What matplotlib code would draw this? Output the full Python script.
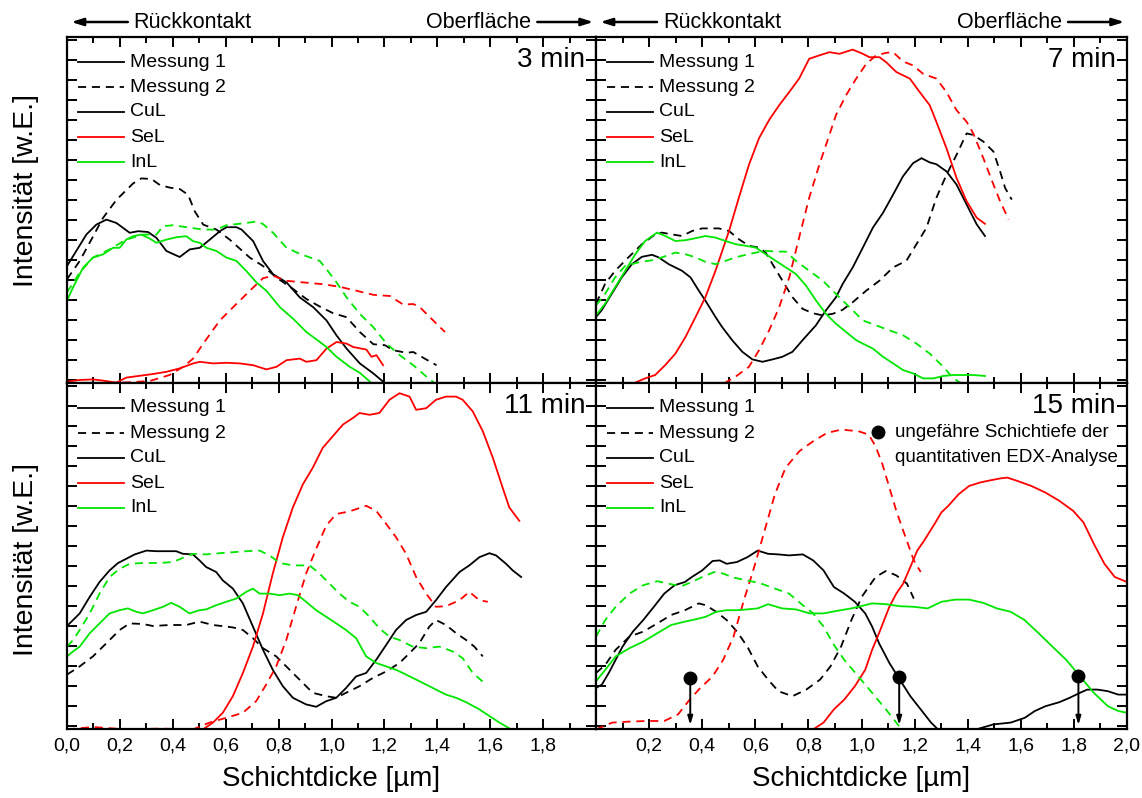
import matplotlib
matplotlib.use("Agg")
import matplotlib.pyplot as plt
import numpy as np
from matplotlib.lines import Line2D

plt.rcParams['font.family'] = ['Liberation Sans', 'DejaVu Sans']

RED = '#ff0000'
GREEN = '#00e600'

# ---------------- 3 min ----------------
m3_cu1_x = [0, 0.035, 0.073, 0.111, 0.149, 0.187, 0.237, 0.269, 0.306, 0.338, 0.376, 0.426, 0.464, 0.502, 0.540, 0.578, 0.603, 0.641, 0.660, 0.704, 0.741, 0.779, 0.830, 0.880, 0.931, 0.981, 1.019, 1.057, 1.107, 1.158, 1.195]
m3_cu1_y = [5.70, 6.45, 7.27, 7.77, 8.02, 7.85, 7.36, 7.44, 7.40, 7.11, 6.45, 6.15, 6.53, 6.61, 7.02, 7.44, 7.64, 7.64, 7.52, 6.94, 5.95, 5.29, 4.88, 4.13, 3.64, 2.98, 2.23, 1.57, 0.83, 0.33, -0.08]
m3_cu2_x = [0, 0.048, 0.092, 0.136, 0.187, 0.250, 0.281, 0.319, 0.351, 0.388, 0.426, 0.458, 0.483, 0.515, 0.565, 0.615, 0.691, 0.741, 0.792, 0.855, 0.905, 0.956, 1.006, 1.057, 1.107, 1.158, 1.202, 1.233, 1.284, 1.309, 1.359, 1.397]
m3_cu2_y = [5.04, 5.95, 7.02, 8.10, 9.01, 9.83, 10.08, 10.05, 9.75, 9.62, 9.55, 9.26, 8.43, 7.77, 7.52, 7.02, 6.12, 5.70, 5.12, 4.55, 4.05, 3.67, 3.34, 3.14, 2.40, 1.79, 1.74, 1.49, 1.36, 1.40, 1.02, 0.74]
m3_in1_x = [0, 0.023, 0.061, 0.098, 0.136, 0.174, 0.199, 0.224, 0.250, 0.281, 0.313, 0.338, 0.376, 0.414, 0.451, 0.477, 0.502, 0.527, 0.565, 0.603, 0.641, 0.678, 0.716, 0.754, 0.805, 0.855, 0.905, 0.956, 0.981, 1.019, 1.069, 1.107, 1.145]
m3_in1_y = [3.97, 4.63, 5.62, 6.12, 6.28, 6.61, 6.61, 7.02, 7.19, 7.27, 7.07, 6.86, 7.02, 7.14, 7.19, 6.94, 6.86, 6.61, 6.45, 6.12, 5.95, 5.45, 4.88, 4.46, 3.64, 3.06, 2.40, 1.90, 1.65, 1.16, 0.66, 0.36, -0.08]
m3_in2_x = [0, 0.048, 0.098, 0.161, 0.224, 0.288, 0.338, 0.363, 0.401, 0.451, 0.515, 0.565, 0.603, 0.678, 0.716, 0.741, 0.779, 0.830, 0.880, 0.956, 0.981, 1.019, 1.057, 1.107, 1.158, 1.208, 1.258, 1.309, 1.359, 1.391]
m3_in2_y = [4.38, 5.37, 6.12, 6.53, 7.02, 7.27, 7.27, 7.69, 7.74, 7.64, 7.52, 7.52, 7.74, 7.85, 7.93, 7.80, 7.36, 6.61, 6.31, 5.95, 5.54, 4.88, 4.13, 3.31, 2.64, 1.82, 1.24, 0.74, 0.17, -0.17]
m3_se1_x = [0, 0.048, 0.098, 0.136, 0.187, 0.224, 0.275, 0.325, 0.376, 0.426, 0.477, 0.502, 0.552, 0.603, 0.653, 0.704, 0.754, 0.792, 0.830, 0.880, 0.905, 0.943, 0.981, 1.019, 1.057, 1.082, 1.132, 1.151, 1.170, 1.195]
m3_se1_y = [-0.08, 0.0, 0.03, -0.03, -0.13, 0.12, 0.21, 0.30, 0.41, 0.58, 0.83, 0.91, 0.83, 0.86, 0.83, 0.74, 0.53, 0.66, 0.99, 1.07, 0.91, 0.99, 1.57, 1.90, 1.82, 1.65, 1.52, 1.16, 1.24, 0.74]
m3_se2_x = [0, 0.098, 0.224, 0.313, 0.388, 0.439, 0.477, 0.515, 0.578, 0.628, 0.691, 0.741, 0.779, 0.830, 0.893, 0.968, 1.031, 1.095, 1.158, 1.221, 1.271, 1.309, 1.334, 1.372, 1.429]
m3_se2_y = [-0.17, -0.17, -0.12, -0.05, 0.25, 0.66, 1.07, 1.82, 2.98, 3.64, 4.46, 5.09, 5.21, 4.96, 4.88, 4.79, 4.66, 4.46, 4.26, 4.20, 3.77, 3.80, 3.64, 3.14, 2.40]

# ---------------- 7 min ----------------
m7_cu1_x = [0, 0.021, 0.059, 0.097, 0.135, 0.173, 0.211, 0.236, 0.274, 0.324, 0.356, 0.387, 0.412, 0.450, 0.475, 0.513, 0.551, 0.589, 0.627, 0.665, 0.702, 0.740, 0.778, 0.828, 0.866, 0.904, 0.929, 0.967, 1.005, 1.043, 1.081, 1.119, 1.156, 1.194, 1.226, 1.257, 1.282, 1.320, 1.358, 1.396, 1.434, 1.465]
m7_cu1_y = [3.15, 3.48, 4.30, 5.13, 5.79, 6.16, 6.26, 6.13, 5.79, 5.46, 5.13, 4.47, 3.97, 3.15, 2.65, 1.99, 1.41, 1.03, 0.91, 1.03, 1.16, 1.41, 1.99, 2.73, 3.48, 4.14, 4.80, 5.63, 6.62, 7.62, 8.36, 9.27, 10.18, 10.84, 11.09, 10.88, 10.79, 10.43, 9.77, 8.77, 7.78, 7.20]
m7_cu2_x = [0, 0.034, 0.072, 0.122, 0.173, 0.223, 0.248, 0.286, 0.324, 0.362, 0.400, 0.463, 0.501, 0.538, 0.576, 0.614, 0.639, 0.665, 0.702, 0.740, 0.778, 0.816, 0.854, 0.892, 0.929, 0.967, 1.018, 1.068, 1.119, 1.169, 1.207, 1.245, 1.282, 1.320, 1.358, 1.396, 1.421, 1.459, 1.497, 1.522, 1.541, 1.566]
m7_cu2_y = [3.81, 4.80, 5.46, 6.13, 6.79, 7.28, 7.37, 7.28, 7.20, 7.45, 7.58, 7.58, 7.45, 7.04, 6.71, 6.62, 6.37, 5.79, 4.97, 4.14, 3.56, 3.34, 3.23, 3.31, 3.51, 3.89, 4.47, 4.97, 5.63, 5.96, 6.79, 7.62, 9.11, 10.26, 11.26, 12.33, 12.25, 11.92, 11.42, 10.43, 9.60, 9.02]
m7_se1_x = [0.141, 0.185, 0.223, 0.261, 0.299, 0.337, 0.375, 0.412, 0.450, 0.501, 0.538, 0.576, 0.614, 0.652, 0.690, 0.728, 0.765, 0.803, 0.841, 0.879, 0.917, 0.967, 1.005, 1.030, 1.068, 1.093, 1.131, 1.182, 1.219, 1.257, 1.282, 1.320, 1.358, 1.396, 1.434, 1.465]
m7_se1_y = [-0.17, 0.08, 0.25, 0.75, 1.32, 2.15, 3.15, 4.14, 5.46, 7.45, 9.11, 10.76, 12.09, 13.00, 13.74, 14.40, 15.07, 16.06, 16.23, 16.39, 16.31, 16.52, 16.31, 16.14, 16.14, 15.89, 15.40, 15.07, 14.40, 13.74, 12.91, 11.59, 10.10, 8.94, 8.11, 7.81]
m7_se2_x = [0.482, 0.526, 0.576, 0.614, 0.652, 0.690, 0.728, 0.765, 0.803, 0.841, 0.879, 0.904, 0.942, 0.980, 1.018, 1.055, 1.093, 1.119, 1.156, 1.194, 1.232, 1.282, 1.320, 1.358, 1.396, 1.421, 1.459, 1.497, 1.522, 1.554]
m7_se2_y = [-0.17, 0.17, 0.66, 1.49, 2.48, 3.64, 5.13, 7.12, 9.11, 10.76, 12.25, 13.25, 14.24, 15.07, 15.81, 16.23, 16.36, 16.39, 15.93, 15.73, 15.31, 15.07, 14.40, 13.49, 12.91, 12.33, 11.09, 9.77, 8.94, 8.03]
m7_in1_x = [0, 0.034, 0.072, 0.110, 0.148, 0.185, 0.230, 0.261, 0.299, 0.337, 0.375, 0.412, 0.450, 0.488, 0.526, 0.564, 0.602, 0.639, 0.677, 0.715, 0.753, 0.791, 0.829, 0.866, 0.904, 0.942, 0.980, 1.005, 1.043, 1.081, 1.119, 1.156, 1.194, 1.232, 1.270, 1.308, 1.346, 1.383, 1.421, 1.465]
m7_in1_y = [3.23, 3.81, 4.64, 5.46, 6.29, 6.95, 7.37, 7.20, 6.95, 6.99, 7.09, 7.20, 7.12, 6.95, 6.79, 6.71, 6.62, 6.29, 5.96, 5.63, 5.30, 4.72, 3.97, 3.31, 2.81, 2.40, 1.99, 1.82, 1.57, 1.16, 0.83, 0.50, 0.33, 0.08, 0.08, 0.20, 0.25, 0.25, 0.25, 0.20]
m7_in2_x = [0, 0.034, 0.072, 0.110, 0.160, 0.211, 0.248, 0.299, 0.337, 0.375, 0.412, 0.450, 0.488, 0.526, 0.564, 0.602, 0.639, 0.677, 0.715, 0.753, 0.803, 0.854, 0.904, 0.955, 1.005, 1.055, 1.106, 1.156, 1.207, 1.257, 1.308, 1.346, 1.377]
m7_in2_y = [3.73, 4.30, 5.13, 5.71, 5.88, 5.99, 6.13, 6.37, 6.29, 6.13, 5.91, 5.79, 5.96, 6.13, 6.26, 6.37, 6.46, 6.42, 6.42, 5.96, 5.46, 4.97, 4.30, 3.64, 2.98, 2.73, 2.48, 2.24, 1.82, 1.32, 0.66, 0.08, -0.17]

# ---------------- 11 min ----------------
m11_cu1_x = [0, 0.023, 0.048, 0.086, 0.123, 0.161, 0.193, 0.224, 0.256, 0.300, 0.338, 0.375, 0.413, 0.438, 0.476, 0.501, 0.526, 0.564, 0.589, 0.627, 0.665, 0.703, 0.741, 0.778, 0.816, 0.854, 0.904, 0.942, 0.980, 1.018, 1.055, 1.093, 1.131, 1.169, 1.207, 1.244, 1.282, 1.320, 1.358, 1.395, 1.433, 1.484, 1.521, 1.559, 1.597, 1.622, 1.660, 1.685, 1.717]
m11_cu1_y = [5.00, 5.30, 5.63, 6.46, 7.20, 7.78, 8.15, 8.36, 8.58, 8.77, 8.74, 8.74, 8.74, 8.61, 8.58, 8.28, 7.95, 7.70, 7.28, 6.87, 6.13, 4.97, 3.81, 2.81, 1.99, 1.41, 1.08, 0.96, 1.24, 1.41, 1.90, 2.48, 2.65, 3.31, 4.06, 4.80, 5.30, 5.55, 5.71, 6.29, 6.95, 7.70, 8.03, 8.44, 8.64, 8.53, 8.11, 7.78, 7.45]
m11_cu2_x = [0, 0.048, 0.098, 0.149, 0.199, 0.237, 0.287, 0.325, 0.388, 0.451, 0.501, 0.552, 0.627, 0.665, 0.703, 0.741, 0.791, 0.829, 0.879, 0.929, 0.980, 1.018, 1.055, 1.106, 1.156, 1.207, 1.257, 1.295, 1.332, 1.370, 1.395, 1.433, 1.471, 1.509, 1.540, 1.572]
m11_cu2_y = [2.57, 2.98, 3.48, 4.14, 4.80, 5.13, 5.10, 5.00, 5.05, 5.05, 5.22, 5.05, 4.93, 4.80, 4.39, 3.89, 3.48, 2.98, 2.32, 1.66, 1.49, 1.41, 1.66, 1.99, 2.40, 2.73, 3.15, 3.64, 4.14, 4.97, 5.30, 5.05, 4.64, 4.30, 3.97, 3.48]
m11_in1_x = [0, 0.023, 0.048, 0.086, 0.123, 0.161, 0.199, 0.230, 0.262, 0.287, 0.325, 0.363, 0.394, 0.426, 0.463, 0.501, 0.526, 0.564, 0.602, 0.640, 0.678, 0.703, 0.728, 0.766, 0.804, 0.841, 0.873, 0.904, 0.942, 0.980, 1.018, 1.055, 1.093, 1.131, 1.169, 1.207, 1.244, 1.282, 1.320, 1.358, 1.395, 1.433, 1.471, 1.509, 1.559, 1.597, 1.635, 1.679]
m11_in1_y = [3.48, 3.73, 3.97, 4.64, 5.13, 5.63, 5.79, 5.88, 5.71, 5.63, 5.79, 5.96, 6.16, 5.96, 5.63, 5.79, 5.83, 6.04, 6.21, 6.37, 6.71, 6.87, 6.62, 6.62, 6.54, 6.62, 6.54, 6.21, 5.79, 5.46, 5.13, 4.80, 4.39, 3.48, 3.15, 2.98, 2.81, 2.57, 2.32, 2.07, 1.82, 1.57, 1.41, 1.19, 0.83, 0.50, 0.17, -0.17]
m11_in2_x = [0, 0.023, 0.048, 0.086, 0.123, 0.161, 0.199, 0.237, 0.287, 0.350, 0.401, 0.451, 0.476, 0.526, 0.577, 0.627, 0.678, 0.728, 0.766, 0.804, 0.854, 0.917, 0.955, 0.992, 1.030, 1.068, 1.106, 1.144, 1.181, 1.219, 1.257, 1.307, 1.358, 1.408, 1.458, 1.496, 1.534, 1.578]
m11_in2_y = [3.97, 4.30, 4.80, 5.63, 6.62, 7.45, 7.86, 8.11, 8.15, 8.15, 8.20, 8.48, 8.61, 8.58, 8.64, 8.69, 8.74, 8.77, 8.53, 8.15, 8.03, 8.03, 7.62, 7.12, 6.62, 6.21, 5.96, 5.46, 4.88, 4.47, 4.30, 3.97, 3.89, 3.97, 3.73, 3.39, 2.65, 2.15]
m11_se1_x = [0.514, 0.552, 0.589, 0.627, 0.665, 0.703, 0.741, 0.778, 0.816, 0.854, 0.892, 0.929, 0.967, 1.005, 1.043, 1.081, 1.106, 1.144, 1.181, 1.219, 1.257, 1.295, 1.320, 1.358, 1.395, 1.433, 1.471, 1.496, 1.534, 1.572, 1.610, 1.647, 1.672, 1.710]
m11_se1_y = [-0.17, 0.17, 0.66, 1.49, 2.65, 3.97, 5.63, 7.62, 9.44, 10.93, 12.09, 12.91, 13.91, 14.49, 15.07, 15.40, 15.65, 15.56, 15.65, 16.31, 16.64, 16.47, 15.81, 15.89, 16.31, 16.47, 16.47, 16.31, 15.73, 14.74, 13.41, 11.92, 10.93, 10.26]
m11_se2_x = [0, 0.098, 0.224, 0.350, 0.476, 0.539, 0.602, 0.665, 0.715, 0.753, 0.791, 0.829, 0.866, 0.904, 0.942, 0.980, 1.018, 1.068, 1.131, 1.169, 1.207, 1.244, 1.282, 1.320, 1.358, 1.395, 1.433, 1.484, 1.521, 1.559, 1.591]
m11_se2_y = [-0.17, -0.05, -0.17, -0.13, -0.17, 0.17, 0.41, 0.66, 1.24, 2.07, 2.98, 4.30, 5.96, 7.62, 8.86, 10.02, 10.60, 10.73, 11.01, 10.76, 10.10, 9.44, 8.61, 7.45, 6.62, 5.96, 5.99, 6.29, 6.71, 6.29, 6.21]

# ---------------- 15 min ----------------
m15_cu1_x = [0, 0.022, 0.048, 0.074, 0.100, 0.139, 0.178, 0.218, 0.257, 0.296, 0.335, 0.361, 0.400, 0.439, 0.466, 0.492, 0.531, 0.570, 0.609, 0.648, 0.687, 0.727, 0.779, 0.818, 0.857, 0.896, 0.935, 0.975, 1.014, 1.040, 1.066, 1.105, 1.144, 1.184, 1.223, 1.262, 1.288, 1.33, 1.40, 1.432, 1.497, 1.562, 1.615, 1.653, 1.693, 1.745, 1.784, 1.823, 1.850, 1.889, 1.928, 1.967, 2.000]
m15_cu1_y = [1.90, 2.07, 2.65, 3.31, 3.97, 4.72, 5.30, 5.96, 6.62, 7.04, 7.20, 7.45, 7.78, 8.25, 8.28, 8.11, 8.20, 8.44, 8.77, 8.61, 8.58, 8.53, 8.58, 8.28, 7.78, 6.95, 6.62, 6.21, 5.63, 4.97, 4.14, 3.15, 2.32, 1.49, 0.83, 0.17, -0.17, -0.6, -0.6, -0.17, 0.08, 0.17, 0.41, 0.75, 0.99, 1.19, 1.41, 1.66, 1.82, 1.82, 1.74, 1.57, 1.57]
m15_cu2_x = [0, 0.035, 0.074, 0.126, 0.178, 0.231, 0.283, 0.335, 0.387, 0.413, 0.453, 0.492, 0.531, 0.570, 0.609, 0.648, 0.687, 0.740, 0.792, 0.844, 0.883, 0.923, 0.962, 1.001, 1.053, 1.092, 1.131, 1.171, 1.197]
m15_cu2_y = [2.65, 3.06, 3.81, 4.47, 4.72, 5.13, 5.55, 5.79, 6.13, 6.04, 5.71, 5.30, 4.72, 3.97, 2.98, 2.32, 1.74, 1.49, 1.82, 2.32, 2.98, 3.97, 5.30, 6.46, 7.45, 7.75, 7.53, 7.12, 6.37]
m15_in1_x = [0, 0.035, 0.074, 0.126, 0.178, 0.231, 0.283, 0.335, 0.374, 0.413, 0.453, 0.492, 0.531, 0.570, 0.609, 0.648, 0.701, 0.753, 0.805, 0.857, 0.909, 0.962, 0.988, 1.040, 1.092, 1.144, 1.197, 1.249, 1.301, 1.353, 1.405, 1.458, 1.510, 1.562, 1.614, 1.667, 1.719, 1.771, 1.823, 1.875, 1.928, 1.967, 2.000]
m15_in1_y = [2.24, 2.81, 3.48, 3.89, 4.22, 4.64, 5.05, 5.22, 5.33, 5.46, 5.71, 5.79, 5.79, 5.83, 5.88, 6.09, 5.88, 5.83, 5.63, 5.63, 5.76, 5.88, 5.96, 6.13, 6.09, 5.99, 5.96, 5.88, 6.21, 6.32, 6.32, 6.16, 5.88, 5.71, 5.30, 4.64, 3.97, 3.31, 2.48, 1.66, 0.99, 0.75, 0.66]
m15_in2_x = [0, 0.035, 0.074, 0.126, 0.178, 0.231, 0.283, 0.322, 0.361, 0.400, 0.446, 0.479, 0.518, 0.570, 0.622, 0.674, 0.727, 0.779, 0.818, 0.857, 0.896, 0.935, 0.988, 1.040, 1.092, 1.131, 1.151]
m15_in2_y = [4.47, 5.30, 5.96, 6.62, 7.04, 7.24, 7.09, 6.99, 7.20, 7.45, 7.70, 7.62, 7.42, 7.28, 7.12, 6.87, 6.62, 6.04, 5.63, 4.97, 4.06, 3.31, 2.48, 1.66, 0.83, 0.17, -0.17]
m15_se1_x = [0.818, 0.857, 0.896, 0.935, 0.975, 1.014, 1.040, 1.066, 1.105, 1.131, 1.157, 1.184, 1.210, 1.236, 1.275, 1.301, 1.327, 1.366, 1.405, 1.445, 1.484, 1.523, 1.549, 1.588, 1.640, 1.693, 1.745, 1.797, 1.836, 1.875, 1.915, 1.954, 2.000]
m15_se1_y = [-0.17, 0.17, 0.83, 1.32, 1.99, 2.81, 3.81, 4.64, 5.96, 6.62, 7.12, 7.95, 8.77, 9.27, 10.10, 10.68, 11.01, 11.59, 12.00, 12.17, 12.28, 12.38, 12.42, 12.25, 12.00, 11.67, 11.26, 10.76, 10.18, 9.11, 8.11, 7.45, 7.20]
m15_se2_x = [0, 0.061, 0.126, 0.191, 0.257, 0.309, 0.348, 0.387, 0.439, 0.479, 0.518, 0.557, 0.596, 0.635, 0.674, 0.714, 0.766, 0.818, 0.870, 0.923, 0.988, 1.027, 1.053, 1.079, 1.105, 1.131, 1.157, 1.184, 1.197, 1.223]
m15_se2_y = [-0.17, 0.17, 0.22, 0.25, 0.25, 0.58, 1.24, 1.82, 2.48, 3.31, 4.47, 6.29, 7.95, 9.77, 11.59, 12.91, 13.74, 14.24, 14.65, 14.82, 14.74, 14.57, 13.99, 13.08, 11.92, 10.76, 9.77, 8.77, 8.28, 7.70]

# EDX depth markers (15 min)
edx_x = [0.355, 1.142, 1.817]
edx_y = [2.40, 2.43, 2.48]

panel_titles = ['3 min', '7 min', '11 min', '15 min']
xtick_vals = [0.0, 0.2, 0.4, 0.6, 0.8, 1.0, 1.2, 1.4, 1.6, 1.8, 2.0]
xtick_left = ['0,0', '0,2', '0,4', '0,6', '0,8', '1,0', '1,2', '1,4', '1,6', '1,8', '']
xtick_right = ['', '0,2', '0,4', '0,6', '0,8', '1,0', '1,2', '1,4', '1,6', '1,8', '2,0']
legend_labels = ['Messung 1', 'Messung 2', 'CuL', 'SeL', 'InL']

DASH = (0, (4.5, 3.2))
LW = 1.3

W, H = 1142, 798
fig = plt.figure(figsize=(W / 100, H / 100), dpi=100)

def axrect(x0, x1, y0, y1):
    return [x0 / W, 1 - y1 / H, (x1 - x0) / W, (y1 - y0) / H]

ax_tl = fig.add_axes(axrect(67, 596, 37, 383))
ax_tr = fig.add_axes(axrect(596, 1127, 37, 383))
ax_bl = fig.add_axes(axrect(67, 596, 383, 729))
ax_br = fig.add_axes(axrect(596, 1127, 383, 729))

panels = [
    (ax_tl, [(m3_cu1_x, m3_cu1_y, 'k', '-'), (m3_cu2_x, m3_cu2_y, 'k', DASH),
             (m3_se1_x, m3_se1_y, RED, '-'), (m3_se2_x, m3_se2_y, RED, DASH),
             (m3_in1_x, m3_in1_y, GREEN, '-'), (m3_in2_x, m3_in2_y, GREEN, DASH)]),
    (ax_tr, [(m7_cu1_x, m7_cu1_y, 'k', '-'), (m7_cu2_x, m7_cu2_y, 'k', DASH),
             (m7_se1_x, m7_se1_y, RED, '-'), (m7_se2_x, m7_se2_y, RED, DASH),
             (m7_in1_x, m7_in1_y, GREEN, '-'), (m7_in2_x, m7_in2_y, GREEN, DASH)]),
    (ax_bl, [(m11_cu1_x, m11_cu1_y, 'k', '-'), (m11_cu2_x, m11_cu2_y, 'k', DASH),
             (m11_se1_x, m11_se1_y, RED, '-'), (m11_se2_x, m11_se2_y, RED, DASH),
             (m11_in1_x, m11_in1_y, GREEN, '-'), (m11_in2_x, m11_in2_y, GREEN, DASH)]),
    (ax_br, [(m15_cu1_x, m15_cu1_y, 'k', '-'), (m15_cu2_x, m15_cu2_y, 'k', DASH),
             (m15_se1_x, m15_se1_y, RED, '-'), (m15_se2_x, m15_se2_y, RED, DASH),
             (m15_in1_x, m15_in1_y, GREEN, '-'), (m15_in2_x, m15_in2_y, GREEN, DASH)]),
]

for i, (ax, series) in enumerate(panels):
    for xs, ys, c, ls in series:
        ax.plot(xs, ys, color=c, linestyle=ls, lw=LW)
    ax.set_xlim(0, 2.0)
    ax.set_ylim(-0.15, 17.15)
    ax.set_xticks(xtick_vals)
    ax.set_xticks(np.arange(0.1, 2.0, 0.2), minor=True)
    ax.set_yticks(np.arange(0, 18, 1))
    ax.set_yticklabels([])
    ax.tick_params(axis='both', which='major', direction='in', top=True, right=True,
                   length=7, width=1.4, labelsize=14)
    ax.tick_params(axis='x', which='minor', direction='in', top=True, bottom=True,
                   length=4, width=1.4)
    for sp in ax.spines.values():
        sp.set_linewidth(1.6)
    if i < 2:
        ax.set_xticklabels([])
    elif i == 2:
        ax.set_xticklabels(xtick_left)
    else:
        ax.set_xticklabels(xtick_right)
    ax.tick_params(axis='x', which='major', pad=6)
    # panel title
    ax.text(1 - 11 / 531, 1 - 23 / 346, panel_titles[i], transform=ax.transAxes,
            ha='right', va='center', fontsize=20)
    # legend (manual)
    styles = [('k', '-'), ('k', DASH), ('k', '-'), (RED, '-'), (GREEN, '-')]
    for j, lab in enumerate(legend_labels):
        yy = 1 - (25 + 25 * j) / 346
        c, ls = styles[j]
        ax.add_line(Line2D([11 / 531, 57 / 531], [yy, yy], transform=ax.transAxes,
                           color=c, linestyle=ls, lw=LW))
        ax.text(63 / 531, yy, lab, transform=ax.transAxes, ha='left', va='center',
                fontsize=14)

ax_tl.set_ylabel('Intensität [w.E.]', fontsize=20.5)
ax_tl.yaxis.set_label_coords(-28 / 529, 0.555)
ax_bl.set_ylabel('Intensität [w.E.]', fontsize=20.5)
ax_bl.yaxis.set_label_coords(-28 / 529, 0.49)
for ax in (ax_bl, ax_br):
    ax.set_xlabel('Schichtdicke [µm]', fontsize=20, labelpad=8.5)

# top annotations: Rückkontakt / Oberfläche
for ax in (ax_tl, ax_tr):
    yy = 1 + 15 / 346
    ax.annotate('', xy=(0.008, yy), xytext=(0.115, yy), xycoords='axes fraction',
                arrowprops=dict(arrowstyle='-|>,head_length=0.7,head_width=0.22',
                                color='k', lw=1.8, shrinkA=0, shrinkB=0))
    ax.text(0.126, yy, 'Rückkontakt', transform=ax.transAxes, ha='left',
            va='center', fontsize=15.5)
    ax.text(0.877, yy, 'Oberfläche', transform=ax.transAxes, ha='right',
            va='center', fontsize=15.5)
    ax.annotate('', xy=(0.995, yy), xytext=(0.889, yy), xycoords='axes fraction',
                arrowprops=dict(arrowstyle='-|>,head_length=0.7,head_width=0.22',
                                color='k', lw=1.8, shrinkA=0, shrinkB=0))

# EDX depth markers
ax_br.plot(edx_x, edx_y, 'o', color='k', ms=9, zorder=5)
for xm, ym in zip(edx_x, edx_y):
    ax_br.annotate('', xy=(xm, 0.05), xytext=(xm, ym - 0.25), xycoords='data',
                   arrowprops=dict(arrowstyle='-|>,head_length=0.5,head_width=0.15',
                                   color='k', lw=1.4, shrinkA=0, shrinkB=0))
ax_br.plot([0.531], [0.858], 'o', color='k', ms=9, transform=ax_br.transAxes, clip_on=False)
ax_br.text(0.563, 0.858, 'ungefähre Schichtiefe der', transform=ax_br.transAxes,
           ha='left', va='center', fontsize=13.5)
ax_br.text(0.563, 0.786, 'quantitativen EDX-Analyse', transform=ax_br.transAxes,
           ha='left', va='center', fontsize=13.5)

fig.savefig('out.png', dpi=100)
